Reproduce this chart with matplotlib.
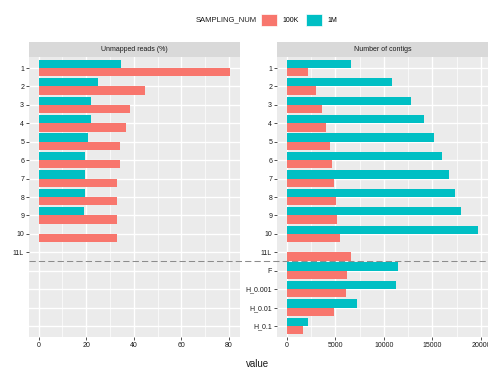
import numpy as np
import matplotlib
matplotlib.use("Agg")
import matplotlib.pyplot as plt
from matplotlib.patches import Patch
from matplotlib.lines import Line2D
from matplotlib.ticker import MultipleLocator
import matplotlib.transforms as mtransforms

plt.rcParams['font.family'] = ['Liberation Sans', 'DejaVu Sans']

# Categories (top to bottom)
categories = ["1", "2", "3", "4", "5", "6", "7", "8", "9", "10", "11L",
              "F", "H_0.001", "H_0.01", "H_0.1"]

# Unmapped reads (%) per sampling size
unmapped_100k = [80.6, 44.8, 38.4, 36.8, 34.3, 34.3, 32.8, 32.8, 32.8, 32.8,
                 np.nan, np.nan, np.nan, np.nan, np.nan]
unmapped_1m = [34.6, 24.8, 22.2, 22.2, 20.6, 19.7, 19.7, 19.7, 19.0, np.nan,
               np.nan, np.nan, np.nan, np.nan, np.nan]

# Number of contigs per sampling size
contigs_100k = [2245, 3070, 3660, 4070, 4450, 4650, 4860, 5070, 5230, 5440,
                6640, 6260, 6060, 4860, 1670]
contigs_1m = [6640, 10800, 12750, 14160, 15120, 15950, 16740, 17320, 17940, 19720,
              np.nan, 11410, 11210, 7230, 2245]

facet_titles = ["Unmapped reads (%)", "Number of contigs"]
x_breaks = [[0, 20, 40, 60, 80], [0, 5000, 10000, 15000, 20000]]
group_labels = ["100K", "1M"]
group_colors = ["#F8766D", "#00BFC4"]
split_after = "11L"

W, H = 488, 368
fig = plt.figure(figsize=(W / 100, H / 100), dpi=100)

panel_x = [29, 277]
panel_w = 211
panel_top, panel_bot = 57, 337
strip_top = 42

tick_fs = 5
ypos = np.arange(len(categories))
bar_h = 0.45
n_samples = categories.index(split_after) + 1

axes = []
for i, (title, s100k, s1m, brk) in enumerate(zip(
        facet_titles, [unmapped_100k, contigs_100k], [unmapped_1m, contigs_1m], x_breaks)):
    x0 = panel_x[i] / W
    ax = fig.add_axes([x0, 1 - panel_bot / H, panel_w / W, (panel_bot - panel_top) / H])
    ax.set_facecolor("#EBEBEB")
    for sp in ax.spines.values():
        sp.set_visible(False)

    v1m = np.array(s1m, dtype=float)
    v100k = np.array(s100k, dtype=float)
    m1 = ~np.isnan(v1m)
    m2 = ~np.isnan(v100k)
    ax.barh(ypos[m1] - bar_h / 2, v1m[m1], height=bar_h, color=group_colors[1], zorder=3)
    ax.barh(ypos[m2] + bar_h / 2, v100k[m2], height=bar_h, color=group_colors[0], zorder=3)

    vmax = np.nanmax(np.concatenate([v1m, v100k]))
    ax.set_xlim(-0.05 * vmax, vmax * 1.05)
    ax.set_ylim(len(categories) - 0.4, -0.6)

    ax.set_xticks(brk)
    ax.set_xticklabels([str(b) for b in brk])
    step = brk[1] - brk[0]
    ax.xaxis.set_minor_locator(MultipleLocator(step / 2))
    ax.set_yticks(ypos)
    # the unmapped-reads facet only labels the sample rows
    labels = categories if i == 1 else [c if k < n_samples else ""
                                        for k, c in enumerate(categories)]
    ax.set_yticklabels(labels)

    ax.grid(True, which="major", color="white", lw=1.0, zorder=0)
    ax.grid(True, which="minor", axis="x", color="white", lw=0.5, zorder=0)
    ax.set_axisbelow(True)
    ax.tick_params(axis="both", which="major", labelsize=tick_fs, length=2,
                   width=0.6, color="#333333", labelcolor="#1a1a1a", pad=1.5)
    ax.tick_params(axis="both", which="minor", length=0)
    if i == 0:
        for k, t in enumerate(ax.yaxis.get_major_ticks()):
            if k >= n_samples:
                t.tick1line.set_visible(False)

    # facet strip
    sax = fig.add_axes([x0, 1 - panel_top / H, panel_w / W, (panel_top - strip_top) / H])
    sax.set_facecolor("#D9D9D9")
    sax.set_xticks([])
    sax.set_yticks([])
    for sp in sax.spines.values():
        sp.set_visible(False)
    sax.text(0.5, 0.5, title, ha="center", va="center", fontsize=tick_fs,
             color="#1a1a1a", transform=sax.transAxes)
    axes.append(ax)

# dashed separator between the sample rows and the reference rows
split_y = n_samples - 0.5
trans = mtransforms.blended_transform_factory(fig.transFigure, axes[0].transData)
x_start = axes[0].get_position().x0
fig.add_artist(Line2D([x_start, 1.0], [split_y, split_y], transform=trans,
                      color="#8c8c8c", lw=0.75, linestyle=(0, (6, 3)), zorder=10))

# legend
leg_y = 1 - 20 / H
fig.text(257 / W, leg_y, "SAMPLING_NUM", ha="right", va="center", fontsize=5.5,
         color="#1a1a1a")
handles = [Patch(facecolor=c, edgecolor="white", lw=0.5) for c in group_colors]
fig.legend(handles, group_labels, loc="center left", bbox_to_anchor=(260 / W, leg_y),
           ncol=2, frameon=False, fontsize=tick_fs, handlelength=2.3, handleheight=2.3,
           handletextpad=0.7, columnspacing=1.1, borderpad=0.2, borderaxespad=0)

# shared axis title
fig.text(258 / W, 1 - 364 / H, "value", ha="center", va="center", fontsize=7,
         color="#1a1a1a")

fig.savefig("out.png", dpi=100)
